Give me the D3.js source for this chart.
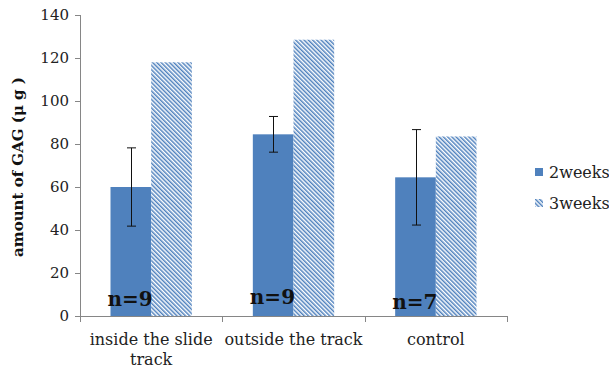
<!DOCTYPE html>
<html><head><meta charset="utf-8">
<script src="https://cdn.jsdelivr.net/npm/d3@7"></script>
<style>body{margin:0;background:#fff}svg{display:block}</style>
</head><body>
<svg id="c" width="609" height="370"></svg>
<script>
const categories = [["inside the slide","track"],["outside the track"],["control"]];
const series = ["2weeks","3weeks"];
const values2w = [60, 84.5, 64.5];
const values3w = [118, 128.5, 83.5];
const err2w = [18.2, 8.3, 22.2];
const nLabels = ["n=9","n=9","n=7"];
const yTicks = [0,20,40,60,80,100,120,140];

const svg = d3.select("#c");
const blue = "#4F81BD";
const defs = svg.append("defs");
const pat = defs.append("pattern").attr("id","hatch").attr("patternUnits","userSpaceOnUse")
  .attr("width",3).attr("height",3).attr("patternTransform","rotate(-45)");
pat.append("rect").attr("width",3).attr("height",3).attr("fill","#fff");
pat.append("rect").attr("width",1.5).attr("height",3).attr("fill",blue);

const x0 = d3.scaleBand().domain(d3.range(categories.length)).range([80,507]).paddingInner(0).paddingOuter(0);
const x1 = d3.scaleBand().domain(series).range([0,x0.bandwidth()]).paddingInner(0).paddingOuter(0.75);
const y = d3.scaleLinear().domain([0,140]).range([316,15]);
const font = "DejaVu Serif";

// y axis
const ya = svg.append("g").attr("transform","translate(80,0)")
  .call(d3.axisLeft(y).tickValues(yTicks).tickSize(5).tickPadding(6));
ya.select(".domain").remove();
ya.selectAll(".tick line").attr("stroke","#868686");
ya.selectAll(".tick text").attr("font-family",font).attr("font-size",15).attr("fill","#222");
svg.append("line").attr("x1",80.5).attr("x2",80.5).attr("y1",y(140)).attr("y2",322).attr("stroke","#868686");

// x axis
svg.append("line").attr("x1",80).attr("x2",507).attr("y1",316.5).attr("y2",316.5).attr("stroke","#868686");
[1,2,3].forEach(i=>{
  const xx = i<3 ? x0(i) : 507;
  svg.append("line").attr("x1",Math.round(xx)+0.5).attr("x2",Math.round(xx)+0.5).attr("y1",316).attr("y2",322).attr("stroke","#868686");
});

const g = svg.append("g");
categories.forEach((c,i)=>{
  const bx = x0(i);
  g.append("rect").attr("x",bx+x1("2weeks")).attr("width",x1.bandwidth())
    .attr("y",y(values2w[i])).attr("height",y(0)-y(values2w[i])).attr("fill",blue);
  g.append("rect").attr("x",bx+x1("3weeks")).attr("width",x1.bandwidth())
    .attr("y",y(values3w[i])).attr("height",y(0)-y(values3w[i])).attr("fill","url(#hatch)");
  const cx = Math.round(bx+x1("2weeks")+x1.bandwidth()/2)+0.5;
  const top = y(values2w[i]+err2w[i]), bot = y(values2w[i]-err2w[i]);
  g.append("line").attr("x1",cx).attr("x2",cx).attr("y1",top).attr("y2",bot).attr("stroke","#111");
  [top,bot].forEach(v=>g.append("line").attr("x1",cx-4.5).attr("x2",cx+4.5).attr("y1",v).attr("y2",v).attr("stroke","#111"));
  const t = svg.append("text").attr("font-family",font).attr("font-size",16).attr("fill","#222")
    .attr("text-anchor","middle");
  c.forEach((line,k)=>t.append("tspan").attr("x",bx+x0.bandwidth()/2).attr("y",345+k*20).text(line));
});
const nY = [306,304,309];
nLabels.forEach((s,i)=>{
  svg.append("text").attr("x",x0(i)+x1("2weeks")-3).attr("y",nY[i]).attr("font-family",font)
    .attr("font-weight","bold").attr("font-size",20).attr("fill","#111").text(s);
});

svg.append("text").attr("transform","translate(23,167) rotate(-90)").attr("text-anchor","middle")
  .attr("font-family",font).attr("font-weight","bold").attr("font-size",15).attr("fill","#111")
  .text("amount of GAG (μ g )");

series.forEach((s,i)=>{
  const ly = 168 + i*31;
  svg.append("rect").attr("x",535).attr("y",ly).attr("width",8).attr("height",8)
    .attr("fill", i===0?blue:"url(#hatch)");
  svg.append("text").attr("x",549).attr("y",ly+10).attr("font-family",font).attr("font-size",16)
    .attr("fill","#222").text(s);
});
</script>
</body></html>
